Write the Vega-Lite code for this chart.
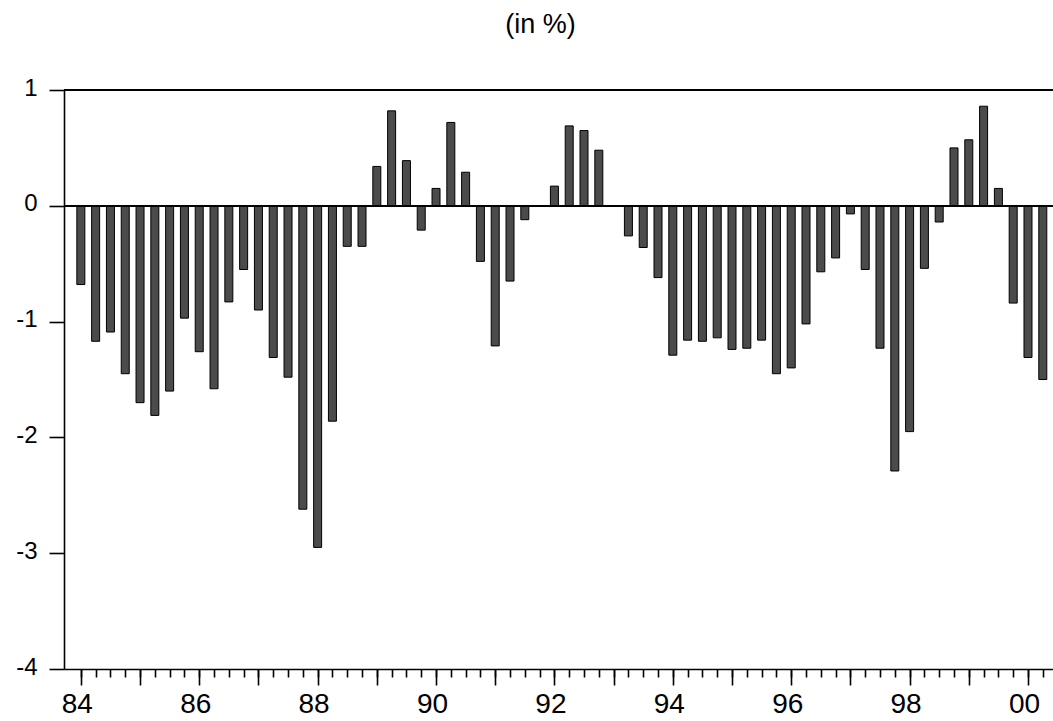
{
  "$schema": "https://vega.github.io/schema/vega-lite/v6.json",
  "width": 989,
  "height": 579,
  "autosize": {"type": "none"},
  "padding": {"left": 64, "top": 90, "right": 0, "bottom": 52},
  "title": {"text": "(in %)", "fontSize": 27, "fontWeight": "normal", "font": "Liberation Sans", "color": "black", "offset": 37, "dx": -18},
  "config": {
    "view": {"stroke": null},
    "font": "Liberation Sans",
    "axis": {"grid": false, "domainColor": "black", "tickColor": "black", "labelColor": "black", "domainWidth": 1.6, "tickWidth": 1.6, "title": null}
  },
  "data": {"values": [
    {"t": 1984.00, "value": -0.68}, {"t": 1984.25, "value": -1.17}, {"t": 1984.50, "value": -1.09}, {"t": 1984.75, "value": -1.45},
    {"t": 1985.00, "value": -1.70}, {"t": 1985.25, "value": -1.81}, {"t": 1985.50, "value": -1.60}, {"t": 1985.75, "value": -0.97},
    {"t": 1986.00, "value": -1.26}, {"t": 1986.25, "value": -1.58}, {"t": 1986.50, "value": -0.83}, {"t": 1986.75, "value": -0.55},
    {"t": 1987.00, "value": -0.90}, {"t": 1987.25, "value": -1.31}, {"t": 1987.50, "value": -1.48}, {"t": 1987.75, "value": -2.62},
    {"t": 1988.00, "value": -2.95}, {"t": 1988.25, "value": -1.86}, {"t": 1988.50, "value": -0.35}, {"t": 1988.75, "value": -0.35},
    {"t": 1989.00, "value": 0.34}, {"t": 1989.25, "value": 0.82}, {"t": 1989.50, "value": 0.39}, {"t": 1989.75, "value": -0.21},
    {"t": 1990.00, "value": 0.15}, {"t": 1990.25, "value": 0.72}, {"t": 1990.50, "value": 0.29}, {"t": 1990.75, "value": -0.48},
    {"t": 1991.00, "value": -1.21}, {"t": 1991.25, "value": -0.65}, {"t": 1991.50, "value": -0.12}, {"t": 1991.75, "value": 0},
    {"t": 1992.00, "value": 0.17}, {"t": 1992.25, "value": 0.69}, {"t": 1992.50, "value": 0.65}, {"t": 1992.75, "value": 0.48},
    {"t": 1993.00, "value": 0}, {"t": 1993.25, "value": -0.26}, {"t": 1993.50, "value": -0.36}, {"t": 1993.75, "value": -0.62},
    {"t": 1994.00, "value": -1.29}, {"t": 1994.25, "value": -1.16}, {"t": 1994.50, "value": -1.17}, {"t": 1994.75, "value": -1.14},
    {"t": 1995.00, "value": -1.24}, {"t": 1995.25, "value": -1.23}, {"t": 1995.50, "value": -1.16}, {"t": 1995.75, "value": -1.45},
    {"t": 1996.00, "value": -1.40}, {"t": 1996.25, "value": -1.02}, {"t": 1996.50, "value": -0.57}, {"t": 1996.75, "value": -0.45},
    {"t": 1997.00, "value": -0.07}, {"t": 1997.25, "value": -0.55}, {"t": 1997.50, "value": -1.23}, {"t": 1997.75, "value": -2.29},
    {"t": 1998.00, "value": -1.95}, {"t": 1998.25, "value": -0.54}, {"t": 1998.50, "value": -0.14}, {"t": 1998.75, "value": 0.50},
    {"t": 1999.00, "value": 0.57}, {"t": 1999.25, "value": 0.86}, {"t": 1999.50, "value": 0.15}, {"t": 1999.75, "value": -0.84},
    {"t": 2000.00, "value": -1.31}, {"t": 2000.25, "value": -1.50}
  ]},
  "resolve": {"axis": {"x": "independent"}},
  "layer": [
    {
      "mark": {"type": "bar", "width": 8, "fill": "#4b4b4b", "stroke": "black", "strokeWidth": 1},
      "encoding": {
        "x": {"field": "t", "type": "quantitative",
          "scale": {"domain": [1983.8, 2000.338], "nice": false, "zero": false},
          "axis": {"orient": "bottom", "labels": false, "tickSize": 8, "domain": true,
            "values": [1984, 1984.25, 1984.5, 1984.75, 1985, 1985.25, 1985.5, 1985.75, 1986, 1986.25, 1986.5, 1986.75, 1987, 1987.25, 1987.5, 1987.75, 1988, 1988.25, 1988.5, 1988.75, 1989, 1989.25, 1989.5, 1989.75, 1990, 1990.25, 1990.5, 1990.75, 1991, 1991.25, 1991.5, 1991.75, 1992, 1992.25, 1992.5, 1992.75, 1993, 1993.25, 1993.5, 1993.75, 1994, 1994.25, 1994.5, 1994.75, 1995, 1995.25, 1995.5, 1995.75, 1996, 1996.25, 1996.5, 1996.75, 1997, 1997.25, 1997.5, 1997.75, 1998, 1998.25, 1998.5, 1998.75, 1999, 1999.25, 1999.5, 1999.75, 2000, 2000.25]}},
        "y": {"field": "value", "type": "quantitative",
          "scale": {"domain": [-4, 1], "nice": false},
          "axis": {"values": [-4, -3, -2, -1, 0, 1], "tickSize": 15, "labelPadding": 12, "labelFontSize": 24, "labelFlush": false, "labelBaseline": "middle", "labelOffset": -2, "labelExpr": "toString(datum.value)"}}
      }
    },
    {
      "mark": {"type": "point", "opacity": 0},
      "encoding": {
        "x": {"field": "t", "type": "quantitative",
          "axis": {"orient": "bottom", "domain": false, "tickSize": 16, "labelPadding": 5, "labelFontSize": 28, "labelFlush": false, "labelOverlap": false, "labelOffset": -4,
            "values": [1984, 1985, 1986, 1987, 1988, 1989, 1990, 1991, 1992, 1993, 1994, 1995, 1996, 1997, 1998, 1999, 2000],
            "labelExpr": "datum.value % 2 == 0 ? substring(toString(datum.value), 2) : ''"}}
      }
    },
    {
      "mark": {"type": "rule", "color": "black", "strokeWidth": 1.6},
      "encoding": {"y": {"datum": 0, "type": "quantitative"}}
    },
    {
      "mark": {"type": "rule", "color": "black", "strokeWidth": 1.6},
      "encoding": {"y": {"datum": 1, "type": "quantitative"}}
    }
  ]
}
